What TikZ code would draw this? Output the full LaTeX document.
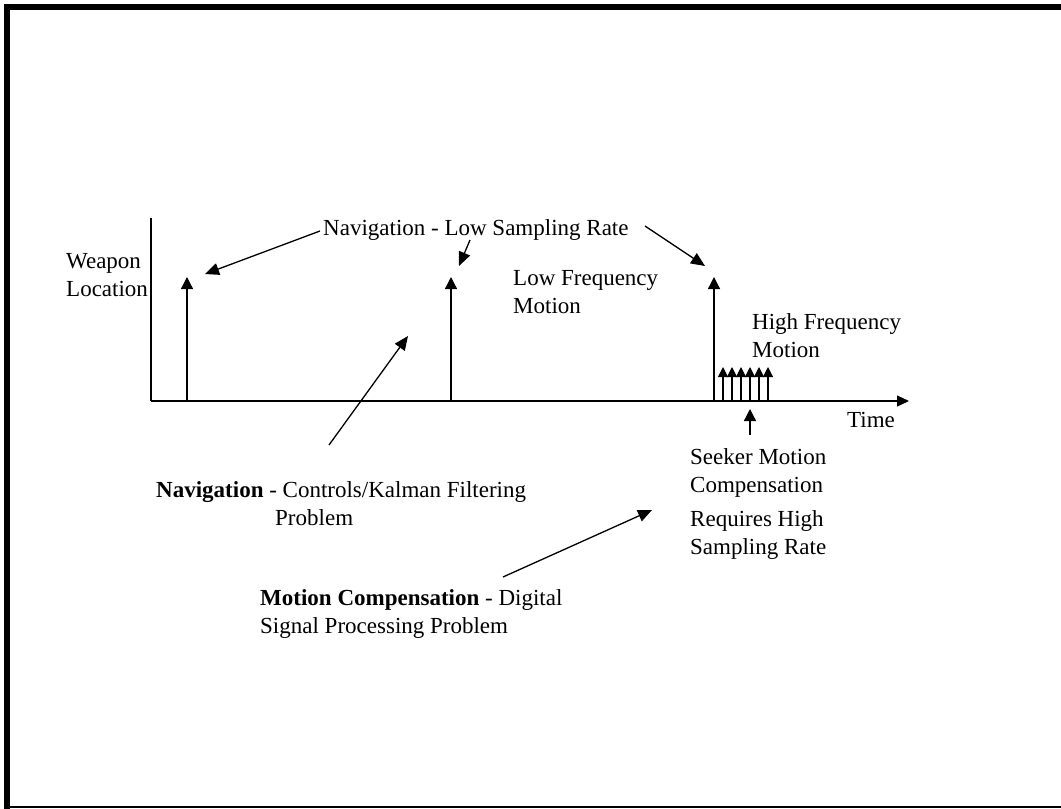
\documentclass[tikz,border=0pt]{standalone}
\usepackage{fontspec}
\setmainfont{Liberation Serif}
\usetikzlibrary{arrows.meta, positioning}

\begin{document}
\begin{tikzpicture}[x=1pt, y=-1pt,
    axisline/.style={line width=1.3pt},
    axisarrow/.style={line width=1.3pt, -{Triangle[length=12pt,width=11pt]}},
    pulse/.style={line width=1.3pt, -{Triangle[length=12pt,width=12pt]}},
    burst/.style={line width=1.1pt, -{Triangle[length=10pt,width=10pt]}},
    pointer/.style={line width=1.3pt, -{Triangle[length=14pt,width=12pt]}},
    label/.style={font=\fontsize{23}{28}\selectfont, inner sep=0pt,
                  anchor=base west, align=left}
]
    \useasboundingbox (0,0) rectangle (1061,809);
    % frame
    \draw[line width=6pt] (7,809) -- (7,7) -- (1061,7);
    \draw[line width=2pt] (4,807) -- (1061,807);

    % axes
    \coordinate (origin) at (151,401);
    \coordinate (ytop) at (151,218);
    \coordinate (xend) at (909,401);
    \draw[axisline] (ytop) -- (origin);
    \draw[axisarrow] (origin) -- (xend);

    % navigation samples
    \foreach \px/\nm in {187/a, 451/b, 714/c} {
        \coordinate (pulse\nm) at (\px,277);
        \draw[pulse] (pulse\nm |- origin) -- (pulse\nm);
    }
    % seeker samples
    \foreach \k in {0,...,5} {
        \coordinate (burst\k) at (723+9*\k,367);
        \draw[burst] (burst\k |- origin) -- (burst\k);
    }

    % labels (base = last line)
    \node[label] (navrate) at (323,235) {Navigation - Low Sampling Rate};
    \node[label] (weapon) at (66,296) {Weapon\\Location};
    \node[label] (lowfreq) at (513,313) {Low Frequency\\Motion};
    \node[label] (highfreq) at (752,357) {High Frequency\\Motion};
    \node[label] (timelbl) at (847,427) {Time};
    \node[label] (seeker) at (690,492) {Seeker Motion\\Compensation};
    \node[label] (highrate) at (690,554) {Requires High\\Sampling Rate};
    \node[label] (navnote) at (156,525) {\textbf{Navigation} - Controls/Kalman Filtering\\\hspace*{119pt}Problem};
    \node[label] (motnote) at (260,633) {\textbf{Motion Compensation} - Digital\\Signal Processing Problem};

    % pointers
    \coordinate (n1s) at (320,231);
    \coordinate (n1e) at (205,274);
    \coordinate (n2s) at (470,240);
    \coordinate (n2e) at (459,266);
    \coordinate (n3s) at (645,226);
    \coordinate (n3e) at (705,266);
    \coordinate (navs) at (329,445);
    \coordinate (nave) at (408,336);
    \coordinate (mots) at (503,577);
    \coordinate (mote) at (652,510);
    \coordinate (seeks) at (750,435);
    \coordinate (seeke) at (750,409);
    \draw[pointer] (n1s) -- (n1e);
    \draw[pointer] (n2s) -- (n2e);
    \draw[pointer] (n3s) -- (n3e);
    \draw[pointer] (navs) -- (nave);
    \draw[pointer] (mots) -- (mote);
    \draw[pulse] (seeks) -- (seeke);
\end{tikzpicture}
\end{document}
